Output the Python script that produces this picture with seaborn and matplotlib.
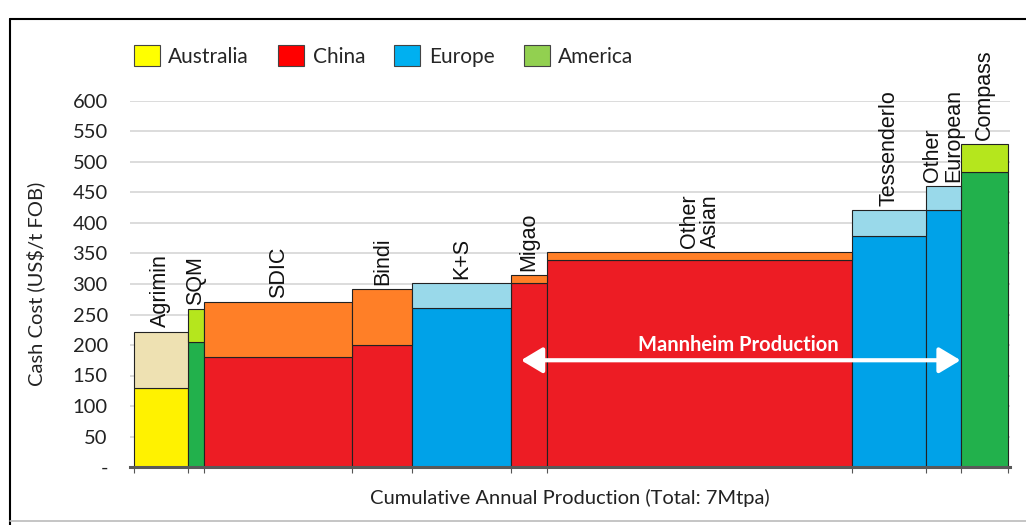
import matplotlib
matplotlib.use("Agg")
import matplotlib.pyplot as plt
import seaborn as sns
import numpy as np
import pandas as pd
from matplotlib.patches import Patch
from matplotlib.lines import Line2D

# ---- data ----
producers = ["Agrimin", "SQM", "SDIC", "Bindi", "K+S", "Migao", "Other\nAsian",
             "Tessenderlo", "Other\nEuropean", "Compass"]
region = ["Australia", "America", "China", "China", "Europe", "China", "China",
          "Europe", "Europe", "America"]
capacity_mtpa = [0.43, 0.13, 1.19, 0.48, 0.79, 0.29, 2.44, 0.59, 0.28, 0.38]
base_cost = [130, 205, 181, 200, 260, 302, 340, 379, 421, 484]
total_cost = [222, 259, 270, 291, 302, 315, 353, 421, 460, 529]
y_ticks = [0, 50, 100, 150, 200, 250, 300, 350, 400, 450, 500, 550, 600]
y_tick_labels = ["-", "50", "100", "150", "200", "250", "300", "350", "400",
                 "450", "500", "550", "600"]
legend_regions = ["Australia", "China", "Europe", "America"]
arrow_span = [3.10, 6.62]
arrow_level = 175

df = pd.DataFrame({"producer": producers, "region": region,
                   "width": capacity_mtpa, "base": base_cost, "total": total_cost})
df["start"] = df["width"].cumsum() - df["width"]
df["top"] = df["total"] - df["base"]

base_col = {"Australia": "#FFF200", "China": "#ED1C24", "Europe": "#00A2E8", "America": "#22B14C"}
top_col = {"Australia": "#EEE1B2", "China": "#FF7F27", "Europe": "#99D9EA", "America": "#B5E61D"}
legend_col = {"Australia": "#FFFF00", "China": "#FF0000", "Europe": "#00B0F0", "America": "#92D050"}

sns.set_theme(style="white")
plt.rcParams["font.family"] = ["Lato", "DejaVu Sans"]

fig = plt.figure(figsize=(10.26, 5.25), dpi=100)
W, H = 1026, 525
ax = fig.add_axes([130 / W, (H - 467) / H, 880 / W, (467 - 101) / H])

ax.bar(df["start"], df["base"], width=df["width"], align="edge",
       color=[base_col[r] for r in df["region"]], edgecolor="#222222", linewidth=0.8, zorder=2)
ax.bar(df["start"], df["top"], bottom=df["base"], width=df["width"], align="edge",
       color=[top_col[r] for r in df["region"]], edgecolor="#222222", linewidth=0.8, zorder=2)

ax.set_xlim(-0.032, 7.016)
ax.set_ylim(0, 600)
ax.set_yticks(y_ticks)
ax.set_yticklabels(y_tick_labels)
ax.grid(axis="y", color="#D9D9D9", linewidth=1.3, zorder=0)
ax.grid(axis="x", visible=False)
ax.set_axisbelow(True)

bounds = list(df["start"]) + [df["start"].iloc[-1] + df["width"].iloc[-1]]
ax.set_xticks(bounds)
ax.set_xticklabels([])
ax.tick_params(axis="x", direction="out", length=4, width=0.8, color="#555555", bottom=True)
ax.tick_params(axis="y", length=0, pad=16, labelsize=14.5, labelcolor="#222222")
for s in ["left", "right", "top"]:
    ax.spines[s].set_visible(False)
ax.spines["bottom"].set_color("#595959")
ax.spines["bottom"].set_linewidth(2.2)

ax.set_ylabel("Cash Cost (US$/t FOB)", fontsize=14.5, color="#222222", labelpad=20)
ax.set_xlabel("Cumulative Annual Production (Total: 7Mtpa)", fontsize=14.5,
              color="#222222", labelpad=8)

for _, r in df.iterrows():
    ax.annotate(r["producer"], xy=(r["start"] + r["width"] / 2, r["total"]),
                xytext=(0, 3), textcoords="offset points", rotation=90,
                ha="center", va="bottom", multialignment="left",
                fontsize=15.5, family=["Liberation Sans", "DejaVu Sans"],
                color="#111111", annotation_clip=False, linespacing=1.0)

ax.annotate("", xy=(arrow_span[0], arrow_level), xytext=(arrow_span[1], arrow_level),
            arrowprops=dict(arrowstyle="<|-|>,head_length=0.5,head_width=0.3",
                            color="white", lw=3,
                            mutation_scale=26, shrinkA=0, shrinkB=0), zorder=5)
ax.text(4.84, arrow_level + 8, "Mannheim Production", color="white", fontsize=14.5,
        fontweight="bold", ha="center", va="bottom", zorder=5)

handles = [Patch(facecolor=legend_col[r], edgecolor="#444444", linewidth=0.8) for r in legend_regions]
fig.legend(handles, legend_regions, loc="upper left", bbox_to_anchor=(134 / W, 1 - 45 / H),
           ncol=4, frameon=False, fontsize=15, handlelength=1.25, handleheight=1.2,
           handletextpad=0.4, columnspacing=1.4, borderpad=0, borderaxespad=0)

# figure frame
fig.add_artist(Line2D([10 / W, 10 / W], [0, 1 - 19 / H], color="black", lw=1.5,
                      transform=fig.transFigure))
fig.add_artist(Line2D([10 / W, 1], [1 - 19 / H, 1 - 19 / H], color="black", lw=1.5,
                      transform=fig.transFigure))
fig.add_artist(Line2D([10 / W, 1], [4 / H, 4 / H], color="#BBBBBB", lw=1.2,
                      transform=fig.transFigure))

fig.savefig("out.png", dpi=100, facecolor="white")
